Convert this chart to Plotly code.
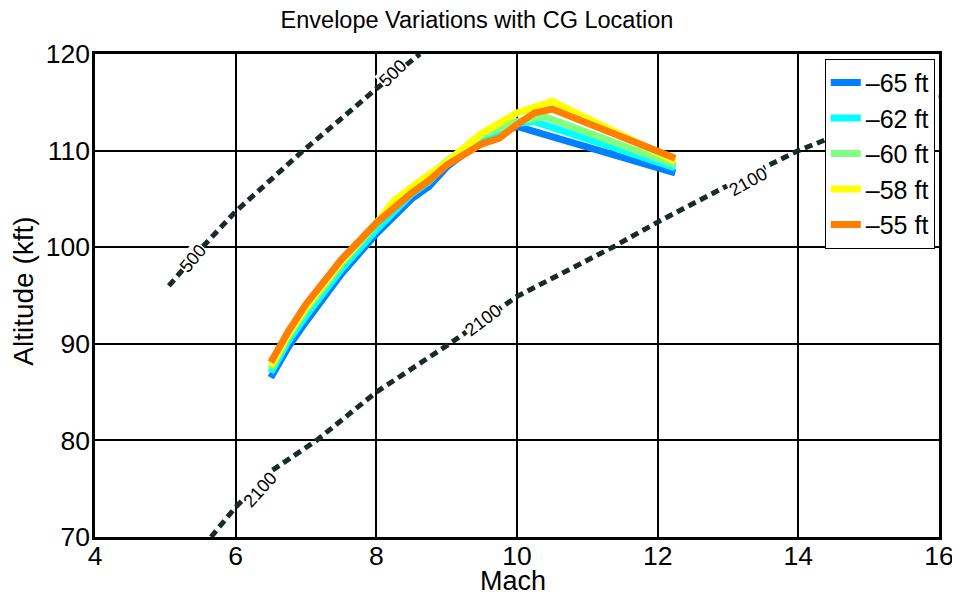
import plotly.graph_objects as go

# ---- data ----
series_names = ["–65 ft", "–62 ft", "–60 ft", "–58 ft", "–55 ft"]
series_colors = ["#0080ff", "#00ffff", "#80ff80", "#ffff00", "#ff8000"]

mach_65 = [6.5, 6.75, 7.0, 7.5, 8.0, 8.5, 8.75, 9.0, 9.5, 10.0, 12.25]
alt_65 = [86.5, 89.7, 92.3, 97.2, 101.4, 105.0, 106.3, 108.3, 111.1, 112.5, 107.7]

mach_62 = [6.5, 6.75, 7.0, 7.5, 8.0, 8.5, 8.75, 9.0, 9.5, 10.0, 10.25, 12.25]
alt_62 = [87.0, 90.3, 92.9, 97.7, 101.8, 105.5, 106.8, 108.6, 111.3, 112.8, 113.0, 108.2]

mach_60 = [6.5, 6.75, 7.0, 7.5, 8.0, 8.5, 8.75, 9.0, 9.5, 10.0, 10.4, 12.25]
alt_60 = [87.4, 90.8, 93.5, 98.2, 102.5, 106.0, 107.4, 108.9, 111.6, 113.0, 113.5, 108.5]

mach_58 = [6.5, 6.75, 7.0, 7.5, 8.0, 8.25, 8.5, 9.0, 9.5, 10.0, 10.5, 12.25]
alt_58 = [87.7, 91.0, 93.8, 98.5, 102.5, 104.8, 106.2, 108.8, 111.8, 113.9, 115.1, 108.9]

mach_55 = [6.5, 6.75, 7.0, 7.5, 8.0, 8.5, 8.75, 9.0, 9.5, 9.75, 10.0, 10.25, 10.5, 12.25]
alt_55 = [88.1, 91.3, 94.1, 98.7, 102.5, 105.6, 106.9, 108.5, 110.7, 111.3, 112.7, 113.9, 114.3, 109.2]

series_mach = [mach_65, mach_62, mach_60, mach_58, mach_55]
series_alt = [alt_65, alt_62, alt_60, alt_58, alt_55]

# contour lines (dynamic pressure)
contour_500_mach = [5.05, 5.5, 6.0, 6.5, 6.96, 7.5, 8.0, 8.62]
contour_500_alt = [96.0, 99.8, 103.7, 107.0, 110.0, 113.3, 116.4, 120.0]

contour_2100_mach = [5.65, 6.0, 6.5, 7.15, 8.0, 9.04, 10.0, 11.36, 12.0, 13.0, 14.0, 15.0, 16.0]
contour_2100_alt = [70.0, 73.1, 76.8, 80.0, 85.0, 90.0, 94.9, 100.0, 102.6, 106.4, 110.0, 112.9, 115.5]

# contour labels
label_text = ["500", "500", "2100", "2100", "2100"]
label_mach = [5.40, 8.24, 6.34, 9.52, 13.28]
label_alt = [98.85, 118.0, 74.9, 92.46, 106.8]
label_angle = [-50, -45, -48, -37, -29]

x_ticks = [4, 6, 8, 10, 12, 14, 16]
y_ticks = [70, 80, 90, 100, 110, 120]

FONT = "Liberation Sans, Arial, sans-serif"
CONTOUR_COLOR = "#1a2a2a"

fig = go.Figure()

for cx, cy in [(contour_500_mach, contour_500_alt), (contour_2100_mach, contour_2100_alt)]:
    fig.add_trace(go.Scatter(x=cx, y=cy, mode="lines",
                             line=dict(color=CONTOUR_COLOR, width=5, dash="8px,5px"),
                             showlegend=False, hoverinfo="skip"))

for name, color, xs, ys in zip(series_names, series_colors, series_mach, series_alt):
    fig.add_trace(go.Scatter(x=xs, y=ys, mode="lines", name=name,
                             line=dict(color=color, width=7)))

for t, mx, al, ang in zip(label_text, label_mach, label_alt, label_angle):
    fig.add_annotation(x=mx, y=al, text=t, showarrow=False, textangle=ang,
                       font=dict(family=FONT, size=18, color="black"),
                       bgcolor="white", borderpad=0)

fig.add_annotation(text="Mach", xref="paper", yref="paper", x=0.495, y=-0.092,
                   showarrow=False, font=dict(family=FONT, size=27, color="black"),
                   xanchor="center", yanchor="middle")
fig.add_annotation(text="Altitude (kft)", xref="paper", yref="paper", x=-0.084, y=0.508,
                   showarrow=False, textangle=-90,
                   font=dict(family=FONT, size=28, color="black"),
                   xanchor="center", yanchor="middle")

fig.update_layout(
    width=952, height=590,
    margin=dict(l=87, r=21, t=46, b=61, autoexpand=False),
    paper_bgcolor="white", plot_bgcolor="white",
    title=dict(text="Envelope Variations with CG Location", x=0.4926, xref="container",
               y=1 - 12 / 590, yref="container", xanchor="center", yanchor="middle",
               font=dict(family=FONT, size=23.5, color="black")),
    font=dict(family=FONT, color="black"),
    showlegend=True,
    legend=dict(x=0.995, y=0.99, xanchor="right", yanchor="top",
                bgcolor="white", bordercolor="black", borderwidth=1,
                font=dict(family=FONT, size=25, color="black"),
                itemwidth=30, tracegroupgap=0),
    xaxis=dict(range=[4, 16], tickvals=x_ticks, showgrid=True, gridcolor="black", gridwidth=2,
               showline=True, linecolor="black", linewidth=2.5, mirror=True,
               zeroline=False, ticks="", ticklabelstandoff=-7, ticklabeloverflow="allow",
               automargin=False,
               tickfont=dict(family=FONT, size=26.5, color="black")),
    yaxis=dict(range=[70, 120], tickvals=y_ticks, showgrid=True, gridcolor="black", gridwidth=2,
               showline=True, linecolor="black", linewidth=2.5, mirror=True,
               zeroline=False, ticks="", ticklabelstandoff=-3, ticklabeloverflow="allow",
               automargin=False,
               tickfont=dict(family=FONT, size=26.5, color="black")),
)

fig.write_html("out.html")
